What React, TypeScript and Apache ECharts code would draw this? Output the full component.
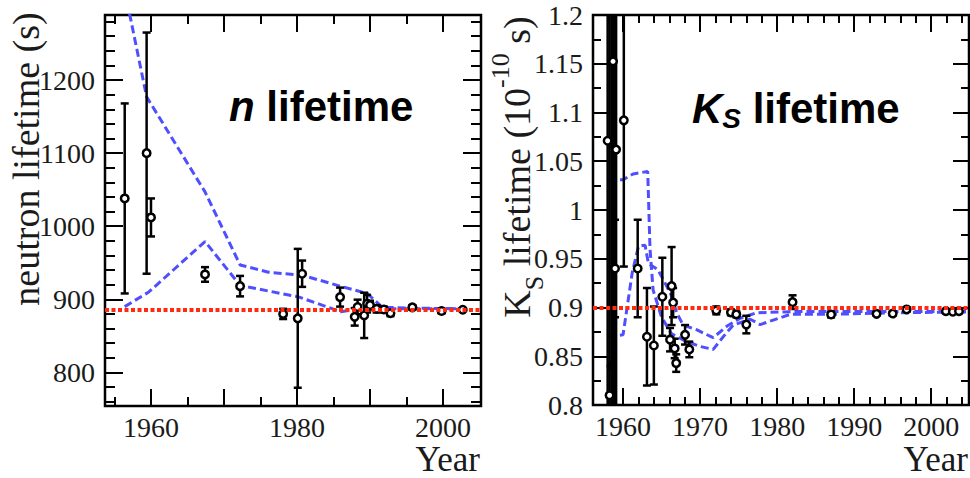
import React, { useEffect, useRef } from "react";
import * as echarts from "echarts";

// ---------- neutron lifetime (left panel) ----------
const nYears = [1956.4, 1959.4, 1960.0, 1967.4, 1972.2, 1978.1, 1980.1, 1980.7, 1985.9, 1987.9, 1988.3, 1989.2, 1989.6, 1990.0, 1990.9, 1991.9, 1992.8, 1995.8, 1999.8, 2002.7];
const nValues = [1038, 1100, 1012, 934, 918, 880, 874, 935, 903, 876, 889.5, 878, 894, 892, 887, 886, 881, 889, 884, 885.7];
const nErrors = [130, 165, 26, 10, 14, 7, 95, 18, 13, 12, 10, 31, 12, 6, 5, 4, 4, 3, 3, 1.5];
const nRef = 885.7;
const nUpperYears = [1956.4, 1959.4, 1967.4, 1972.2, 1976.1, 1980.7, 1985.9, 1989.6, 1991.7, 1995.8, 2002.7];
const nUpperValues = [1323, 1177, 1047, 947, 937, 933, 918, 908, 889, 888, 887];
const nLowerYears = [1956.4, 1959.7, 1967.4, 1972.2, 1980.3, 1986.0, 1988.5, 2002.7];
const nLowerValues = [890, 910, 979, 919, 903, 883, 887, 887];
const nYLabels = [800, 900, 1000, 1100, 1200];
const nYMinor = [760, 780, 820, 840, 860, 880, 920, 940, 960, 980, 1020, 1040, 1060, 1080, 1120, 1140, 1160, 1180, 1220, 1240, 1260, 1280];
const nXLabels = [1960, 1980, 2000];
const nXMajor = [1960, 1970, 1980, 1990, 2000];
const nXMinor = [1955, 1965, 1975, 1985, 1995];

// ---------- K_S lifetime (right panel) ----------
const kYears = [1958.0, 1958.25, 1958.5, 1958.7, 1958.96, 1958.9, 1959.1, 1960.1, 1961.9, 1963.1, 1964.0, 1965.1, 1966.1, 1966.3, 1966.5, 1966.7, 1966.9, 1968.05, 1968.6, 1972.1, 1974.0, 1974.7, 1976.0, 1982.0, 1987.0, 1992.9, 1995.0, 1996.8, 2001.9, 2002.8, 2003.6];
const kValues = [1.071, 0.81, 0.84, 1.1525, 0.94, 0.95, 1.062, 1.092, 0.94, 0.87, 0.861, 0.911, 0.867, 0.922, 0.905, 0.858, 0.843, 0.872, 0.857, 0.897, 0.895, 0.893, 0.8825, 0.9055, 0.8928, 0.8935, 0.8938, 0.898, 0.8962, 0.8956, 0.8962];
const kErrors = [0.35, 0.45, 0.4, 0.45, 0.05, 0.3, 0.3, 0.15, 0.05, 0.05, 0.04, 0.04, 0.012, 0.04, 0.015, 0.01, 0.009, 0.01, 0.008, 0.004, 0.003, 0.003, 0.009, 0.007, 0.003, 0.002, 0.002, 0.002, 0.002, 0.002, 0.002];
const kMarker = ["open", "open", "filled", "open", "open", "none", "open", "open", "open", "open", "open", "open", "open", "open", "open", "open", "open", "open", "open", "open", "open", "open", "open", "open", "open", "open", "open", "open", "open", "open", "open"];
const kRef = 0.8959;
const kAYears = [1958.05, 1960.0, 1961.3, 1963.2, 1963.5, 1963.9, 1965.0, 1966.3, 1968.0, 1970.0, 1971.7, 1973.0, 1974.3, 1976.5, 1977.8, 1981.7, 1986.9, 1995.0, 2004.5];
const kAValues = [1.031, 1.031, 1.037, 1.0395, 0.96, 0.918, 0.89, 0.873, 0.866, 0.86, 0.857, 0.87, 0.882, 0.888, 0.8825, 0.893, 0.893, 0.8945, 0.8955];
const kBYears = [1958.05, 1960.0, 1961.2, 1962.0, 1962.85, 1963.3, 1964.5, 1965.4, 1966.3, 1966.96, 1967.8, 1969.6, 1971.7, 1973.5, 1975.2, 1977.3, 1982.0, 2004.5];
const kBValues = [0.87, 0.872, 0.936, 0.9626, 0.964, 0.945, 0.939, 0.926, 0.912, 0.8945, 0.882, 0.877, 0.869, 0.881, 0.889, 0.8945, 0.8958, 0.8958];
const kYLabels = [0.8, 0.85, 0.9, 0.95, 1.0, 1.05, 1.1, 1.15, 1.2];
const kYMinor = [0.825, 0.875, 0.925, 0.975, 1.025, 1.075, 1.125, 1.175];
const kXLabels = [1960, 1970, 1980, 1990, 2000];
const kXMinor = [1958, 1962, 1964, 1966, 1968, 1972, 1974, 1976, 1978, 1982, 1984, 1986, 1988, 1992, 1994, 1996, 1998, 2002, 2004];

const SERIF = '"Liberation Serif", "Times New Roman", serif';
const SANS = '"Liberation Sans", Arial, sans-serif';
const BLUE = "#4f4fff";
const RED = "#ff2a10";

function errorBarItem(params: any, api: any) {
  const x = api.value(0);
  const y = api.value(1);
  const e = api.value(2);
  const cs = params.coordSys;
  const top = api.coord([x, y + e]);
  const bot = api.coord([x, y - e]);
  const yMin = cs.y;
  const yMax = cs.y + cs.height;
  const y1 = Math.max(top[1], yMin);
  const y2 = Math.min(bot[1], yMax);
  const st = { stroke: "#000", lineWidth: 2.5 };
  const children: any[] = [
    { type: "line", shape: { x1: top[0], y1, x2: top[0], y2 }, style: st },
  ];
  const half = 4;
  if (top[1] >= yMin) children.push({ type: "line", shape: { x1: top[0] - half, y1: top[1], x2: top[0] + half, y2: top[1] }, style: st });
  if (bot[1] <= yMax) children.push({ type: "line", shape: { x1: bot[0] - half, y1: bot[1], x2: bot[0] + half, y2: bot[1] }, style: st });
  return { type: "group", children };
}

function axisPair(kind: "x" | "y", grid: number, min: number, max: number, major: number[], minor: number[], labels: number[] | null, majorLen: number, minorLen: number, fmt: (v: number) => string) {
  const posA = kind === "x" ? "bottom" : "left";
  const posB = kind === "x" ? "top" : "right";
  const mk = (position: string, ticks: number[], len: number, lab: number[] | null) => ({
    type: "value",
    gridIndex: grid,
    position,
    min,
    max,
    axisLine: { show: false },
    splitLine: { show: false },
    axisTick: { show: true, inside: true, length: len, customValues: ticks, lineStyle: { color: "#000", width: 2 } },
    axisLabel: lab
      ? {
          show: true,
          customValues: lab,
          showMinLabel: true,
          showMaxLabel: true,
          margin: kind === "x" ? 7 : 10,
          fontFamily: SERIF,
          fontSize: 28,
          color: "#1a1a1a",
          formatter: fmt,
        }
      : { show: false },
  });
  return [
    mk(posA, major, majorLen, labels),
    mk(posA, minor, minorLen, null),
    mk(posB, major, majorLen, null),
    mk(posB, minor, minorLen, null),
  ];
}

export default function App() {
  const ref = useRef<HTMLDivElement>(null);
  useEffect(() => {
    if (!ref.current) return;
    const chart = echarts.init(ref.current, undefined, { renderer: "svg" });
    const yearFmt = (v: number) => String(Math.round(v));
    const decFmt = (v: number) => String(Math.round(v * 1000) / 1000);

    const nX = axisPair("x", 0, 1953.7, 2005.2, nXMajor, nXMinor, nXLabels, 17, 9, yearFmt);
    const kX = axisPair("x", 1, 1956.1, 2004.9, kXLabels, kXMinor, kXLabels, 17, 8, yearFmt);
    const nY = axisPair("y", 0, 754, 1289, nYLabels, nYMinor, nYLabels, 18, 10, yearFmt);
    const kY = axisPair("y", 1, 0.8, 1.2, kYLabels, kYMinor, kYLabels, 16, 8, decFmt);

    const nPts = nYears.map((x, i) => [x, nValues[i], nErrors[i]]);
    const kBars = kYears.map((x, i) => [x, kValues[i], kErrors[i]]);
    const kPts = kYears
      .map((x, i) => ({
        value: [x, kValues[i], kErrors[i]],
        kind: kMarker[i],
      }))
      .filter((p) => p.kind !== "none")
      .map((p) => ({ value: p.value, itemStyle: p.kind === "filled" ? { color: "#000" } : undefined }));
    const lineStyle = { color: BLUE, width: 3, type: [8, 4] };
    const refLine = (v: number) => ({
      silent: true,
      symbol: "none",
      label: { show: false },
      lineStyle: { color: RED, width: 4, type: [4, 2.5] },
      data: [{ yAxis: v }],
    });
    const markerStyle = { color: "#fff", borderColor: "#000", borderWidth: 2.5, opacity: 1 };

    chart.setOption({
      animation: false,
      backgroundColor: "#fff",
      grid: [
        { left: 105, top: 15, width: 376, height: 391, show: true, borderColor: "#000", borderWidth: 2.5, backgroundColor: "transparent" },
        { left: 593, top: 15, width: 376, height: 390, show: true, borderColor: "#000", borderWidth: 2.5, backgroundColor: "transparent" },
      ],
      xAxis: [...nX, ...kX],
      yAxis: [...nY, ...kY],
      series: [
        // left panel
        { type: "line", xAxisIndex: 0, yAxisIndex: 0, data: [], markLine: refLine(nRef), z: 1 },
        { type: "line", xAxisIndex: 0, yAxisIndex: 0, data: nUpperYears.map((x, i) => [x, nUpperValues[i]]), showSymbol: false, symbol: "none", lineStyle, z: 2 },
        { type: "line", xAxisIndex: 0, yAxisIndex: 0, data: nLowerYears.map((x, i) => [x, nLowerValues[i]]), showSymbol: false, symbol: "none", lineStyle, z: 2 },
        { type: "custom", xAxisIndex: 0, yAxisIndex: 0, data: nPts, renderItem: errorBarItem, z: 3 },
        { type: "scatter", xAxisIndex: 0, yAxisIndex: 0, data: nPts, symbol: "circle", symbolSize: 7.5, itemStyle: markerStyle, z: 4 },
        // right panel
        { type: "line", xAxisIndex: 4, yAxisIndex: 4, data: [], markLine: refLine(kRef), z: 1 },
        { type: "line", xAxisIndex: 4, yAxisIndex: 4, data: kAYears.map((x, i) => [x, kAValues[i]]), showSymbol: false, symbol: "none", lineStyle, z: 2 },
        { type: "line", xAxisIndex: 4, yAxisIndex: 4, data: kBYears.map((x, i) => [x, kBValues[i]]), showSymbol: false, symbol: "none", lineStyle, z: 2 },
        { type: "custom", xAxisIndex: 4, yAxisIndex: 4, data: kBars, renderItem: errorBarItem, z: 3 },
        { type: "scatter", xAxisIndex: 4, yAxisIndex: 4, data: kPts, symbol: "circle", symbolSize: 7.5, itemStyle: markerStyle, z: 4 },
      ],
      graphic: [
        {
          type: "text",
          x: 26,
          y: 159,
          rotation: Math.PI / 2,
          style: { text: "neutron lifetime (s)", font: `38px ${SERIF}`, fill: "#1a1a1a", align: "center", verticalAlign: "middle", textAlign: "center", textVerticalAlign: "middle" },
        },
        {
          type: "text",
          x: 517,
          y: 167,
          rotation: Math.PI / 2,
          style: {
            text: "{n|K}{sub|S}{n| lifetime (10}{sup|-10}{n| s)}",
            align: "center",
            verticalAlign: "middle",
            textAlign: "center",
            textVerticalAlign: "middle",
            rich: {
              n: { fontFamily: SERIF, fontSize: 38, lineHeight: 60, fill: "#1a1a1a" },
              sub: { fontFamily: SERIF, fontSize: 26, lineHeight: 32, verticalAlign: "bottom", fill: "#1a1a1a" },
              sup: { fontFamily: SERIF, fontSize: 26, lineHeight: 26, verticalAlign: "top", fill: "#1a1a1a" },
            },
          },
        },
        {
          type: "text",
          x: 480,
          y: 459,
          style: { text: "Year", font: `35px ${SERIF}`, fill: "#1a1a1a", align: "right", verticalAlign: "middle", textAlign: "right", textVerticalAlign: "middle" },
        },
        {
          type: "text",
          x: 968,
          y: 459,
          style: { text: "Year", font: `35px ${SERIF}`, fill: "#1a1a1a", align: "right", verticalAlign: "middle", textAlign: "right", textVerticalAlign: "middle" },
        },
        {
          type: "text",
          x: 229,
          y: 106,
          style: {
            text: "{i|n}{b| lifetime}",
            align: "left",
            verticalAlign: "middle",
            textAlign: "left",
            textVerticalAlign: "middle",
            rich: {
              i: { fontFamily: SANS, fontSize: 42, fontWeight: "bold", fontStyle: "italic", fill: "#000" },
              b: { fontFamily: SANS, fontSize: 42, fontWeight: "bold", fill: "#000" },
            },
          },
        },
        {
          type: "text",
          x: 692,
          y: 108,
          style: {
            text: "{k|K}{s|S}{b| lifetime}",
            align: "left",
            verticalAlign: "middle",
            textAlign: "left",
            textVerticalAlign: "middle",
            rich: {
              k: { fontFamily: SANS, fontSize: 42, lineHeight: 48, fontWeight: "bold", fontStyle: "italic", fill: "#000" },
              s: { fontFamily: SANS, fontSize: 28, lineHeight: 20, verticalAlign: "bottom", fontWeight: "bold", fontStyle: "italic", fill: "#000" },
              b: { fontFamily: SANS, fontSize: 42, lineHeight: 48, fontWeight: "bold", fill: "#000" },
            },
          },
        },
      ],
    });
    return () => chart.dispose();
  }, []);
  return <div ref={ref} style={{ position: "absolute", left: 0, top: 0, width: 970, height: 478 }} />;
}
